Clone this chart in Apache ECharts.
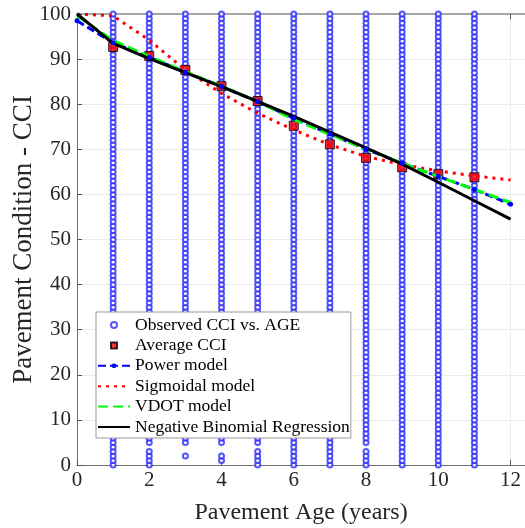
<!DOCTYPE html>
<html>
<head>
<meta charset="utf-8">
<script src="https://cdn.jsdelivr.net/npm/echarts@6/dist/echarts.min.js"></script>
<style>
  html, body { margin: 0; padding: 0; background: #fff; }
  #chart { width: 525px; height: 528px; }
</style>
</head>
<body>
<div id="chart"></div>
<script>
// Observed CCI per pavement age: sparse low readings plus a continuous run of
// integer CCI values from runStart up to 100.
const obsAges = [1, 2, 3, 4, 5, 6, 7, 8, 9, 10, 11];
const obsLow = [[], [0, 1, 2, 3], [2], [1, 2], [0, 1, 2, 3], [], [], [0, 1, 2, 3], [], [], []];
const obsRunStart = [0, 5, 5, 5, 5, 0, 0, 5, 0, 0, 0];
const obsRunEnd = 100;

// Average CCI per age
const avgAges = [1, 2, 3, 4, 5, 6, 7, 8, 9, 10, 11];
const avgCCI = [92.7, 90.7, 87.6, 84.0, 80.7, 75.2, 71.1, 68.1, 66.0, 64.5, 63.8];

// Model curves evaluated at each age 0..12
const modelAges = [0, 1, 2, 3, 4, 5, 6, 7, 8, 9, 10, 11, 12];
const powerModel = [98.5, 93.6, 90.4, 87.1, 83.9, 80.6, 76.9, 73.4, 70.0, 66.9, 64.0, 61.1, 57.8];
const sigmoidalModel = [100, 99.6, 94.2, 87.6, 82.4, 78.0, 74.3, 71.0, 68.4, 66.6, 65.2, 64.1, 63.2];
const vdotModel = [99.6, 94.1, 90.6, 87.2, 84.0, 80.6, 76.6, 73.3, 70.1, 66.9, 64.0, 61.1, 58.2];
const nbModel = [100, 93.5, 90.1, 87.0, 83.9, 80.6, 77.3, 73.8, 70.3, 66.7, 62.7, 58.6, 54.5];

// X tick labels
const xTicks = [0, 2, 4, 6, 8, 10, 12];

function pairs(xs, ys) { return xs.map((x, i) => [x, ys[i]]); }

const observed = [];
obsAges.forEach((age, i) => {
  obsLow[i].forEach(v => observed.push([age, v]));
  for (let v = obsRunStart[i]; v <= obsRunEnd; v++) observed.push([age, v]);
});

const serif = '"Liberation Serif", "Times New Roman", serif';
const hidden = { color: 'rgba(0,0,0,0)', borderWidth: 0 };
const chart = echarts.init(document.getElementById('chart'), null, { renderer: 'canvas' });

chart.setOption({
  animation: false,
  textStyle: { fontFamily: serif },
  grid: { left: 77, top: 14, right: 0, bottom: 63, containLabel: false, outerBoundsMode: 'none' },
  xAxis: [{
    type: 'value', min: 0, max: 12.4, interval: 2,
    name: 'Pavement Age (years)', nameLocation: 'middle', nameGap: 36, nameMoveOverlap: false,
    nameTextStyle: { fontFamily: serif, fontSize: 24, color: '#262626' },
    axisLine: { show: true, lineStyle: { color: '#6e6e6e', width: 1 } },
    axisTick: { show: true, inside: true, length: 5, lineStyle: { color: '#555' } },
    axisLabel: {
      fontFamily: serif, fontSize: 21, color: '#262626', margin: 5,
      formatter: v => (xTicks.indexOf(v) >= 0 ? String(v) : '')
    },
    splitLine: { show: true, lineStyle: { color: '#ebebeb', width: 1 } }
  }, {
    type: 'value', min: 0, max: 12.4, interval: 2, position: 'top',
    axisLine: { show: true, lineStyle: { color: '#a6a6a6', width: 2 } },
    axisTick: { show: true, inside: true, length: 5, lineStyle: { color: '#555' } },
    axisLabel: { show: false },
    splitLine: { show: false }
  }],
  yAxis: {
    type: 'value', min: 0, max: 100, interval: 10,
    name: 'Pavement Condition - CCI', nameLocation: 'middle', nameGap: 40, nameMoveOverlap: false,
    nameTextStyle: { fontFamily: serif, fontSize: 27, color: '#262626' },
    axisLine: { show: true, lineStyle: { color: '#6e6e6e', width: 1 } },
    axisTick: { show: true, inside: true, length: 5, lineStyle: { color: '#555' } },
    axisLabel: { fontFamily: serif, fontSize: 21, color: '#262626', margin: 6 },
    splitLine: { show: true, lineStyle: { color: '#ebebeb', width: 1 } }
  },
  legend: {
    orient: 'vertical', left: 96, top: 312,
    backgroundColor: '#fff', borderColor: '#9a9a9a', borderWidth: 1,
    padding: [3, 1, 1, 1],
    itemWidth: 32, itemHeight: 6, itemGap: 0.4,
    textStyle: { fontFamily: serif, fontSize: 17.5, color: '#000', lineHeight: 20 },
    data: [
      { name: 'Observed CCI vs. AGE', icon: 'emptyCircle' },
      { name: 'Average CCI', icon: 'path://M0,0L10,0L10,10L0,10Z', symbolKeepAspect: true },
      { name: 'Power model' },
      { name: 'Sigmoidal model', itemStyle: hidden },
      { name: 'VDOT model', itemStyle: hidden },
      { name: 'Negative Binomial Regression', itemStyle: hidden }
    ]
  },
  series: [
    {
      name: 'Observed CCI vs. AGE', type: 'scatter', data: observed,
      symbol: 'emptyCircle', symbolSize: 5,
      itemStyle: { color: '#2a2aff', borderColor: '#2a2aff', borderWidth: 0.9 }
    },
    {
      name: 'Average CCI', type: 'scatter', data: pairs(avgAges, avgCCI),
      symbol: 'rect', symbolSize: 9,
      itemStyle: { color: '#ff0000', borderColor: '#000', borderWidth: 1 }
    },
    {
      name: 'Power model', type: 'line', data: pairs(modelAges, powerModel),
      symbol: 'circle', symbolSize: 5, showSymbol: true,
      itemStyle: { color: '#0000ff' },
      lineStyle: { color: '#0000ff', width: 3, type: [8, 4] }
    },
    {
      name: 'Sigmoidal model', type: 'line', data: pairs(modelAges, sigmoidalModel),
      symbol: 'none', itemStyle: { color: '#ff0000' },
      lineStyle: { color: '#ff0000', width: 3, type: [3, 5] }
    },
    {
      name: 'VDOT model', type: 'line', data: pairs(modelAges, vdotModel),
      symbol: 'none', itemStyle: { color: '#00ff00' },
      lineStyle: { color: '#00ff00', width: 3, type: [10, 5] }
    },
    {
      name: 'Negative Binomial Regression', type: 'line', data: pairs(modelAges, nbModel),
      symbol: 'none', itemStyle: { color: '#000' },
      lineStyle: { color: '#000', width: 3 }
    }
  ]
});
</script>
</body>
</html>
